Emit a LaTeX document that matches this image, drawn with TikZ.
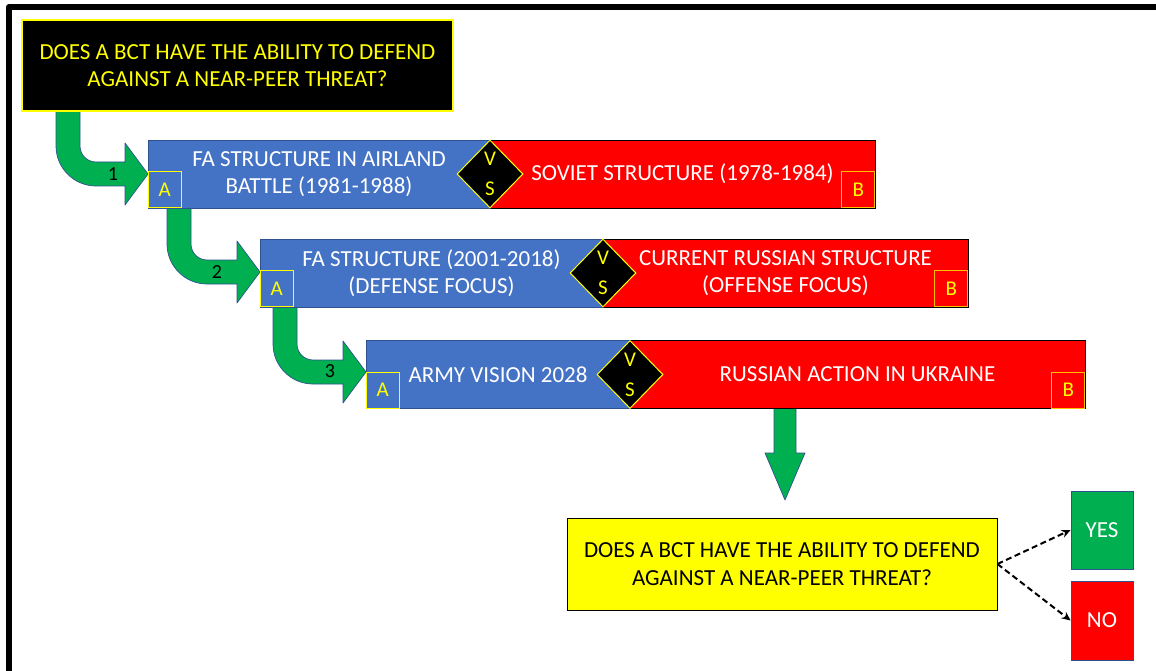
\documentclass[tikz,border=0pt]{standalone}
\usepackage{fontspec}
\setmainfont{Carlito}
\usetikzlibrary{shapes.geometric,arrows.meta}
\definecolor{pblue}{HTML}{4472C4}
\definecolor{pred}{HTML}{FF0000}
\definecolor{pgreen}{HTML}{00B050}
\definecolor{pyellow}{HTML}{FFFF00}
\definecolor{pline}{HTML}{2F528F}
\definecolor{borange}{HTML}{FFC000}
\tikzset{
  bigtext/.style={font=\fontsize{23}{27.5}\selectfont, align=center},
  bluebox/.style={draw=pline, line width=0.8pt, fill=pblue, text=white, bigtext, inner sep=0, minimum height=68pt},
  redbox/.style={draw=black, line width=0.8pt, fill=pred, text=white, bigtext, inner sep=0, minimum height=68pt},
  vsbox/.style={diamond, draw=pyellow, line width=1pt, fill=black, inner sep=0, minimum width=66pt, minimum height=68pt},
  vstext/.style={text=pyellow, font=\fontsize{21}{30}\selectfont, align=center, inner sep=0},
  abox/.style={draw=pyellow, line width=1.4pt, text=pyellow, font=\fontsize{21}{24}\selectfont, inner sep=0, minimum width=33pt, minimum height=36pt},
  bboxstyle/.style={abox, draw=borange},
  greenarrow/.style={fill=pgreen, draw=pline, line width=0.7pt, line join=round},
  numlabel/.style={font=\fontsize{20}{22}\selectfont, text=black, inner sep=0},
  qbox/.style={bigtext, inner sep=0, minimum width=431pt, minimum height=91pt},
  answer/.style={draw=pline, line width=0.8pt, text=white, font=\fontsize{23}{27}\selectfont, inner sep=0, minimum width=62pt},
  choice/.style={dashed, dash pattern=on 6pt off 3.5pt, line width=2pt, -{Stealth[length=9pt,width=8pt]}},
}
\newcommand{\greenbend}[4]{%
  \path[greenarrow] (#1,#2) -- ({#1},{#3+12-40})
    .. controls ({#1},{#3+12-18}) and ({#1+18},{#3+12}) .. ({#1+40},{#3+12})
    -- ({#4-23},{#3+12}) -- ({#4-23},{#3+31}) -- (#4,#3) -- ({#4-23},{#3-31})
    -- ({#4-23},{#3-12}) -- ({#1+40},{#3-12})
    .. controls ({#1+31.2},{#3-12}) and ({#1+24},{#3-12-7.2}) .. ({#1+24},{#3-12-16})
    -- ({#1+24},#2) -- cycle;}
\begin{document}
\begin{tikzpicture}[x=1pt,y=-1pt]
\clip (0,0) rectangle (1156,671);
\fill[white] (0,0) rectangle (1156,671);
% frame
\draw[line width=6pt, line join=round] (9,700) -- (9,7) -- (1200,7);

% green bent arrows
\greenbend{56}{111}{174}{148}
\greenbend{167}{208}{272}{260}
\greenbend{273}{307}{372}{366}
\node[numlabel] (n1) at (113,174) {1};
\node[numlabel] (n2) at (217,272) {2};
\node[numlabel] (n3) at (330,371) {3};

% down arrow
\path[greenarrow] (774,408) -- (774,453) -- (765,453) -- (785,500) -- (805,453) -- (796,453) -- (796,408) -- cycle;

% top question
\node[qbox, fill=black, draw=pyellow, line width=1.2pt, text=pyellow] (q) at (237.5,65.5)
  {DOES A BCT HAVE THE ABILITY TO DEFEND\\AGAINST A NEAR-PEER THREAT?};

% row 1
\node[bluebox, minimum width=342pt] (b1) at (319,174) {FA STRUCTURE IN AIRLAND\\BATTLE (1981-1988)};
\node[redbox, minimum width=385pt] (r1) at (682.5,174) {SOVIET STRUCTURE (1978-1984)};
\node[vsbox] (d1) at (490,174) {};
\node[vstext] (v1) at (d1.center) {V\\S};
\node[abox, anchor=south west] (a1) at (b1.south west) {A};
\node[bboxstyle, anchor=south east] (bb1) at (r1.south east) {B};

% row 2
\node[bluebox, minimum width=343pt] (b2) at (431.5,273) {FA STRUCTURE (2001-2018)\\(DEFENSE FOCUS)};
\node[redbox, minimum width=365pt] (r2) at (785.5,273) {CURRENT RUSSIAN STRUCTURE\\(OFFENSE FOCUS)};
\node[vsbox] (d2) at (603,273) {};
\node[vstext] (v2) at (d2.center) {V\\S};
\node[abox, anchor=south west] (a2) at (b2.south west) {A};
\node[bboxstyle, anchor=south east] (bb2) at (r2.south east) {B};

% row 3
\node[bluebox, minimum width=264pt] (b3) at (498,374.5) {ARMY VISION 2028};
\node[redbox, minimum width=455pt] (r3) at (857.5,374.5) {RUSSIAN ACTION IN UKRAINE};
\node[vsbox] (d3) at (630,374.5) {};
\node[vstext] (v3) at (d3.center) {V\\S};
\node[abox, anchor=south west] (a3) at (b3.south west) {A};
\node[bboxstyle, anchor=south east] (bb3) at (r3.south east) {B};

% final question
\node[qbox, minimum width=430pt, minimum height=92pt, fill=pyellow, draw=black, line width=0.8pt, text=black] (yq) at (782,564)
  {DOES A BCT HAVE THE ABILITY TO DEFEND\\AGAINST A NEAR-PEER THREAT?};
\node[answer, fill=pgreen, minimum height=78pt] (yes) at (1102,530) {YES};
\node[answer, fill=pred, minimum height=79pt] (no) at (1102,620.5) {NO};
\draw[choice] (yq.east) -- (yes.west);
\draw[choice] (yq.east) -- (no.west);
\end{tikzpicture}
\end{document}
